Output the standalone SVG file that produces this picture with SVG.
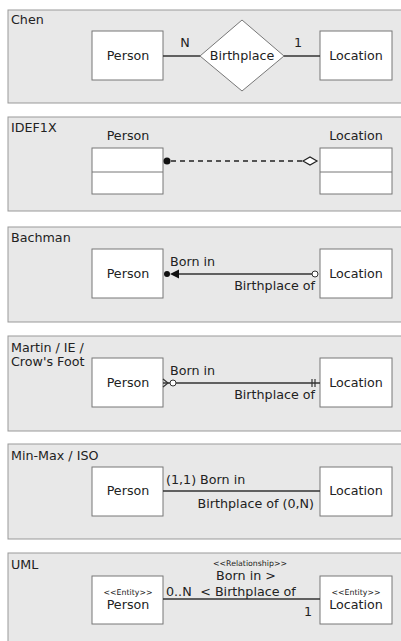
<svg xmlns="http://www.w3.org/2000/svg" width="401" height="641" viewBox="0 0 401 641">
  <style>
    text { font-family: "DejaVu Sans", "Liberation Sans", sans-serif; font-size: 12.7px; fill: #222; }
    .panel { fill: #e8e8e8; stroke: #999; stroke-width: 1; }
    .ent { fill: #fff; stroke: #777; stroke-width: 1; }
    .mid { text-anchor: middle; }
    .end { text-anchor: end; }
    .small { font-size: 7.8px; }
    .rel { stroke: #333; stroke-width: 1.5; fill: none; }
  </style>

  <!-- notation panels -->
  <g id="panels">
    <rect class="panel" x="8" y="10" width="400" height="93"/>
    <rect class="panel" x="8" y="117" width="400" height="94"/>
    <rect class="panel" x="8" y="227" width="400" height="95"/>
    <rect class="panel" x="8" y="336" width="400" height="95"/>
    <rect class="panel" x="8" y="444" width="400" height="95"/>
    <rect class="panel" x="8" y="553" width="400" height="95"/>
    <text x="11" y="24">Chen</text>
    <text x="11" y="132">IDEF1X</text>
    <text x="11" y="242">Bachman</text>
    <text x="11" y="352">Martin / IE /</text>
    <text x="11" y="366">Crow's Foot</text>
    <text x="11" y="460">Min-Max / ISO</text>
    <text x="11" y="569">UML</text>
  </g>

  <!-- Chen -->
  <g id="chen-person"><rect class="ent" x="92" y="31" width="71" height="49"/><text class="mid" x="128" y="60">Person</text></g>
  <g id="chen-birthplace"><polygon class="ent" points="242,20 284,56 242,91 200,56"/><text class="mid" x="242" y="60">Birthplace</text></g>
  <g id="chen-location"><rect class="ent" x="320" y="31" width="72" height="49"/><text class="mid" x="356" y="60">Location</text></g>

  <!-- IDEF1X -->
  <g id="idef-person"><text class="mid" x="128" y="140">Person</text><rect class="ent" x="92" y="148" width="71" height="46"/><line x1="92" y1="172" x2="163" y2="172" stroke="#777"/></g>
  <g id="idef-location"><text class="mid" x="356" y="140">Location</text><rect class="ent" x="320" y="148" width="72" height="46"/><line x1="320" y1="172" x2="392" y2="172" stroke="#777"/></g>

  <!-- Bachman -->
  <g id="bach-person"><rect class="ent" x="92" y="249" width="71" height="49"/><text class="mid" x="128" y="278">Person</text></g>
  <g id="bach-location"><rect class="ent" x="320" y="249" width="72" height="49"/><text class="mid" x="356" y="278">Location</text></g>

  <!-- Martin / IE / Crow's Foot -->
  <g id="ie-person"><rect class="ent" x="92" y="358" width="71" height="49"/><text class="mid" x="128" y="387">Person</text></g>
  <g id="ie-location"><rect class="ent" x="320" y="358" width="72" height="49"/><text class="mid" x="356" y="387">Location</text></g>

  <!-- Min-Max / ISO -->
  <g id="iso-person"><rect class="ent" x="92" y="467" width="71" height="49"/><text class="mid" x="128" y="495">Person</text></g>
  <g id="iso-location"><rect class="ent" x="320" y="467" width="72" height="49"/><text class="mid" x="356" y="495">Location</text></g>

  <!-- UML -->
  <g id="uml-person"><rect class="ent" x="92" y="576" width="71" height="48"/><text class="mid small" x="128" y="595">&lt;&lt;Entity&gt;&gt;</text><text class="mid" x="128" y="609">Person</text></g>
  <g id="uml-location"><rect class="ent" x="320" y="576" width="72" height="48"/><text class="mid small" x="356" y="595">&lt;&lt;Entity&gt;&gt;</text><text class="mid" x="356" y="609">Location</text></g>

  <!-- connectors -->
  <g id="connectors">
    <!-- Chen -->
    <line class="rel" x1="163" y1="56" x2="200" y2="56"/>
    <line class="rel" x1="284" y1="56" x2="320" y2="56"/>
    <text class="mid" x="185" y="47">N</text>
    <text class="mid" x="298" y="47">1</text>

    <!-- IDEF1X -->
    <line x1="171" y1="161" x2="303" y2="161" stroke="#222" stroke-width="1.3" stroke-dasharray="5,4"/>
    <circle cx="167" cy="161" r="3.5" fill="#111"/>
    <polygon points="303,161 310,157 317,161 310,165" fill="#fff" stroke="#222" stroke-width="1.2"/>

    <!-- Bachman -->
    <line class="rel" x1="178" y1="274" x2="312" y2="274"/>
    <circle cx="167" cy="274" r="3" fill="#111"/>
    <polygon points="170,274 179,269.5 179,278.5" fill="#111"/>
    <circle cx="315" cy="274" r="3" fill="#fff" stroke="#333"/>
    <text x="170" y="266">Born in</text>
    <text class="end" x="315" y="290">Birthplace of</text>

    <!-- Martin / IE / Crow's Foot -->
    <polyline points="163,379 168,383 163,387" fill="none" stroke="#333" stroke-width="1.2"/>
    <line class="rel" x1="163" y1="383" x2="170" y2="383"/>
    <circle cx="173" cy="383" r="3" fill="#fff" stroke="#333"/>
    <line class="rel" x1="176" y1="383" x2="320" y2="383"/>
    <line x1="312" y1="379" x2="312" y2="387" stroke="#333" stroke-width="1.2"/>
    <line x1="315" y1="379" x2="315" y2="387" stroke="#333" stroke-width="1.2"/>
    <text x="170" y="375">Born in</text>
    <text class="end" x="315" y="399">Birthplace of</text>

    <!-- Min-Max / ISO -->
    <line class="rel" x1="163" y1="491" x2="320" y2="491"/>
    <text x="166" y="484">(1,1) Born in</text>
    <text class="end" x="314" y="508">Birthplace of (0,N)</text>

    <!-- UML -->
    <line class="rel" x1="163" y1="599" x2="320" y2="599"/>
    <text class="mid small" x="250" y="566">&lt;&lt;Relationship&gt;&gt;</text>
    <text class="mid" x="246" y="580">Born in &gt;</text>
    <text class="mid" x="248" y="596">&lt; Birthplace of</text>
    <text x="166" y="596">0..N</text>
    <text class="mid" x="308" y="616">1</text>
  </g>
</svg>
